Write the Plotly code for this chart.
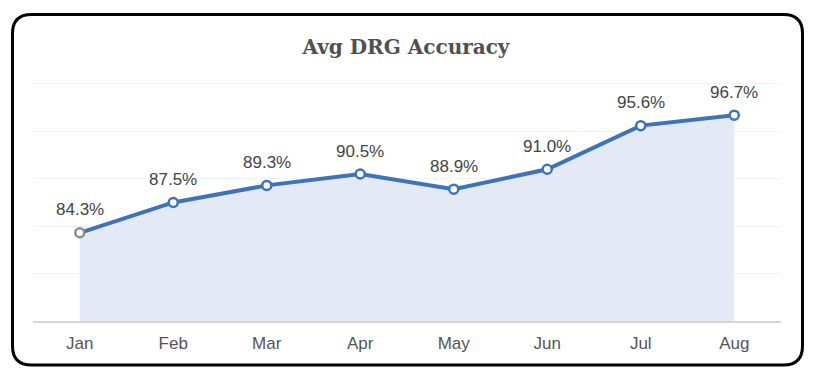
import plotly.graph_objects as go

months = ["Jan", "Feb", "Mar", "Apr", "May", "Jun", "Jul", "Aug"]
accuracy = [84.3, 87.5, 89.3, 90.5, 88.9, 91.0, 95.6, 96.7]
labels = [f"{v:.1f}%" for v in accuracy]
marker_edge = ["#8c8c8c"] + ["#3f72b9"] * (len(months) - 1)

W, H = 816, 376
L, R, T, B = 25, 43, 74, 63
pw, ph = W - L - R, H - T - B

def px(x):
    return (x - L) / pw

def py(y):
    return 1 - (y - T) / ph

fig = go.Figure()
fig.add_trace(go.Scatter(
    x=months, y=accuracy,
    mode="lines+markers",
    fill="tozeroy",
    fillcolor="#e3eaf6",
    line=dict(color="#3f72b9", width=4),
    marker=dict(size=9, color="white", line=dict(color=marker_edge, width=2.5)),
    cliponaxis=False,
    hoverinfo="skip",
))

annotations = [
    dict(x=m, y=v, text=t, showarrow=False, yshift=23, yanchor="middle",
         xanchor="center",
         font=dict(family="Liberation Sans, Arial", size=17, color="#444444"))
    for m, v, t in zip(months, accuracy, labels)
]

# rounded border
x0, x1, y0, y1, r = 4.5, 794.5, 6.5, 357, 19
pts = [
    ("M", x0 + r, y0), ("L", x1 - r, y0), ("Q", x1, y0, x1, y0 + r),
    ("L", x1, y1 - r), ("Q", x1, y1, x1 - r, y1), ("L", x0 + r, y1),
    ("Q", x0, y1, x0, y1 - r), ("L", x0, y0 + r), ("Q", x0, y0, x0 + r, y0),
]
path = ""
for p in pts:
    s = p[0]
    coords = p[1:]
    for i in range(0, len(coords), 2):
        s += f" {px(coords[i]):.5f},{py(coords[i+1]):.5f}"
    path += s + " "
path += "Z"

fig.update_layout(
    width=W, height=H,
    margin=dict(l=L, r=R, t=T, b=B),
    paper_bgcolor="white", plot_bgcolor="white",
    showlegend=False,
    title=dict(text="<b>Avg DRG Accuracy</b>", x=(406 - 8) / W, xanchor="center",
               y=1 - 39 / H, yanchor="middle",
               font=dict(family="DejaVu Serif", size=20, color="#505050")),
    xaxis=dict(range=[-0.5, 7.5], showgrid=False, showline=True,
               linecolor="#d6d6d6", linewidth=2, ticks="outside", ticklen=6,
               tickcolor="rgba(0,0,0,0)",
               tickfont=dict(family="Liberation Sans, Arial", size=17, color="#555555"),
               fixedrange=True),
    yaxis=dict(range=[75, 100.2], tick0=75, dtick=5, showticklabels=False,
               gridcolor="#eaf5fb", gridwidth=1, zeroline=False, fixedrange=True),
    annotations=annotations,
    shapes=[dict(type="path", xref="paper", yref="paper", path=path,
                 line=dict(color="black", width=3), fillcolor="rgba(0,0,0,0)")],
)

fig.write_html("out.html")
